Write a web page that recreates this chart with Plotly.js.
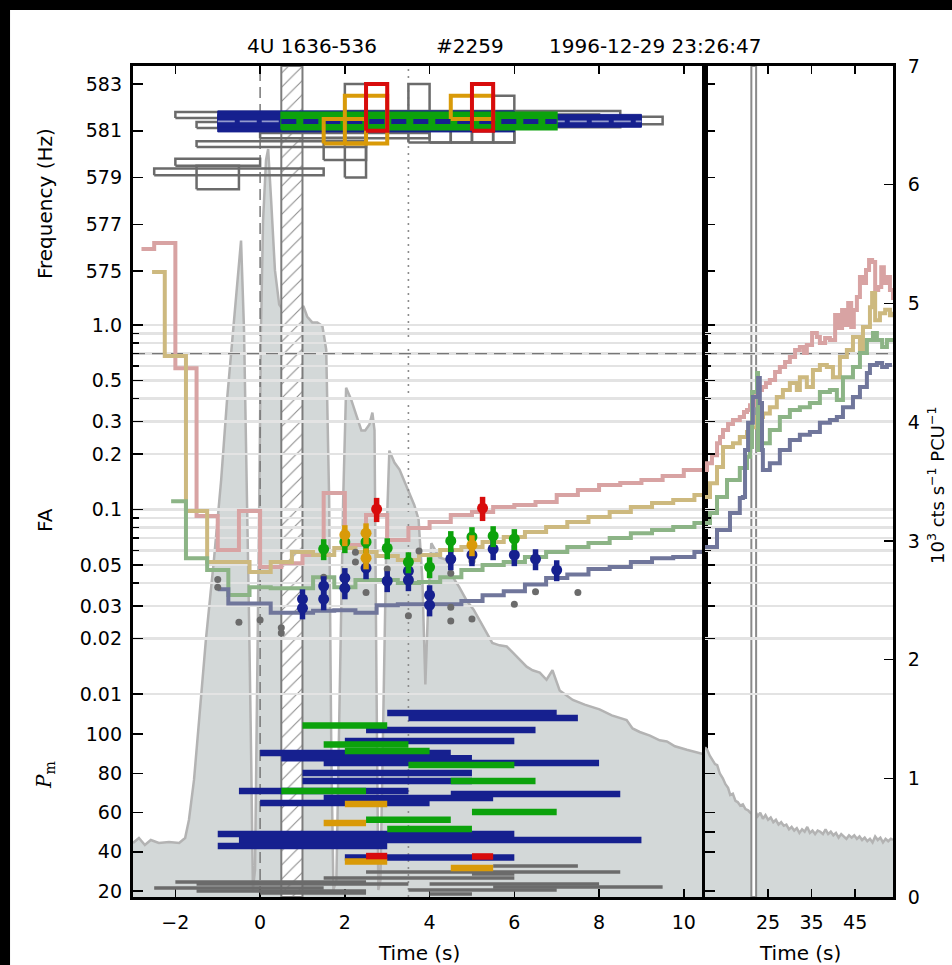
<!DOCTYPE html>
<html>
<head>
<meta charset="utf-8">
<script src="https://cdn.plot.ly/plotly-3.0.1.min.js"></script>
<style>
  html, body { margin: 0; padding: 0; background: #ffffff; }
  #chart { width: 952px; height: 965px; }
</style>
</head>
<body>
<div id="chart"></div>
<script>
// ---------------------------------------------------------------------------
// Burst #2259 of 4U 1636-536 (1996-12-29 23:26:47): light curve, oscillation
// detections in frequency, false-alarm levels and Pm powers.
// ---------------------------------------------------------------------------

// time axis limits (s): early panel and late panel
const T_START = -3.0, T_SPLIT = 10.5, T_END = 53.7;
const RATE_TOP = 7;                 // top of count-rate scale (10^3 cts/s/PCU)

// light curve [time s, rate 10^3 cts/s/PCU]
const lcEarly = [
  [-3.00,0.455],[-2.86,0.497],[-2.72,0.438],[-2.58,0.480],[-2.39,0.455],[-2.15,0.463],[-1.91,0.455],[-1.77,0.497],[-1.68,0.649],[-1.56,0.986],
  [-1.44,1.49],[-1.28,2.165],[-1.09,2.84],[-0.92,3.51],[-0.78,4.19],[-0.64,4.78],[-0.52,5.28],[-0.45,5.53],[-0.38,4.78],[-0.31,3.51],
  [-0.26,2.33],[-0.21,1.15],[-0.17,0.06],[-0.12,0.23],[-0.07,1.66],[-0.02,3.34],[0.02,4.78],[0.07,5.70],[0.14,6.21],[0.19,6.30],
  [0.26,5.87],[0.35,5.28],[0.45,4.99],[0.57,4.93],[0.69,4.90],[0.83,4.89],[0.95,4.93],[1.02,4.98],[1.11,4.89],[1.23,4.84],
  [1.35,4.84],[1.47,4.81],[1.56,4.61],[1.63,3.34],[1.68,1.24],[1.73,0.06],[1.80,0.14],[1.87,1.66],[1.96,3.34],[2.03,4.29],
  [2.15,4.19],[2.27,4.06],[2.39,3.93],[2.48,3.93],[2.58,3.98],[2.65,4.08],[2.70,3.93],[2.74,2.08],[2.79,0.06],[2.84,0.14],
  [2.91,1.66],[2.98,3.01],[3.05,3.76],[3.17,3.66],[3.29,3.60],[3.40,3.51],[3.52,3.41],[3.64,3.30],[3.74,3.18],[3.83,2.67],
  [3.90,1.79],[3.97,2.50],[4.04,2.98],[4.23,2.86],[4.40,2.84],[4.52,2.71],[4.70,2.61],[4.87,2.50],[5.04,2.42],[5.18,2.33],
  [5.34,2.23],[5.48,2.14],[5.65,2.12],[5.82,2.11],[5.96,2.06],[6.12,2.00],[6.29,1.94],[6.43,1.91],[6.60,1.89],[6.76,1.83],
  [6.90,1.91],[7.07,1.74],[7.38,1.66],[7.66,1.62],[8.01,1.58],[8.30,1.53],[8.65,1.49],[8.79,1.42],[8.96,1.39],[9.20,1.36],
  [9.43,1.32],[9.60,1.31],[9.79,1.27],[10.07,1.24],[10.26,1.22],[10.50,1.20]
];
const lcLate = [
  [10.5,1.26],[11.0,1.24],[11.6,1.19],[12.2,1.16],[12.8,1.12],[13.3,1.11],[13.9,1.04],[14.6,1.00],[15.2,0.95],[15.8,0.92],
  [16.3,0.86],[16.9,0.87],[17.5,0.81],[18.0,0.80],[18.6,0.77],[19.2,0.78],[19.8,0.74],[20.4,0.73],[20.9,0.71],[21.5,0.70],
  [22.1,0.72],[22.6,0.68],[23.2,0.71],[23.8,0.66],[24.4,0.69],[25.0,0.65],[25.6,0.67],[26.2,0.63],[26.8,0.65],[27.4,0.61],
  [28.0,0.63],[28.6,0.60],[29.2,0.61],[29.8,0.57],[30.4,0.59],[31.0,0.56],[31.6,0.58],[32.2,0.54],[32.8,0.57],[33.4,0.55],
  [34.0,0.59],[34.6,0.54],[35.2,0.56],[35.8,0.53],[36.4,0.56],[37.0,0.55],[37.6,0.53],[38.2,0.57],[38.8,0.53],[39.4,0.55],
  [40.0,0.52],[40.6,0.54],[41.2,0.50],[41.8,0.53],[42.4,0.51],[43.0,0.49],[43.6,0.52],[44.2,0.50],[44.8,0.52],[45.4,0.49],
  [46.0,0.51],[46.6,0.48],[47.2,0.50],[47.8,0.47],[48.4,0.49],[49.0,0.46],[49.6,0.51],[50.2,0.48],[50.8,0.50],[51.4,0.46],
  [52.0,0.49],[52.6,0.47],[53.2,0.49],[53.7,0.48]
];

// excluded data windows [start, end] (s) and reference times
const gapEarly = [0.5, 1.0];
const gapLate = [21.15, 22.25];
const burstOnset = 0.0;
const peakMarker = 3.5;

// frequency windows [t start, t end, f low, f high] (Hz)
const freqGrey = [
  [-2.0,2.0,581.55,581.80],[-1.5,2.5,581.12,581.37],[-1.5,2.5,580.30,580.55],[0.0,4.0,580.68,580.90],
  [-2.0,0.0,579.50,579.80],[-2.5,1.5,579.10,579.38],[-1.5,-0.5,578.50,579.50],[1.5,2.5,579.75,580.70],
  [2.0,2.5,581.0,583.0],[2.0,2.5,579.0,581.0],[3.5,4.0,581.0,583.0],
  [3.5,4.5,580.5,581.5],[4.0,5.0,580.5,581.5],[4.5,5.5,580.5,581.5],[5.0,6.0,580.5,581.5],
  [5.5,6.0,580.5,582.5],[2.0,8.5,581.15,581.85],[6.0,8.0,581.20,581.70],[5.5,9.5,581.28,581.60]
];
const freqBlue = [[-1.0,9.0,581.15,581.70],[-1.0,6.0,580.95,581.85]];
const freqBlueMid = [-1.0, 9.0, 581.40];
const freqGreen = [[0.5,7.0,581.05,581.78]];
const freqGreenMid = [0.5, 7.0, 581.40];
const freqAmber = [[2.0,3.0,580.45,582.5],[1.5,2.5,580.45,581.5],[4.5,5.5,581.5,582.5]];
const freqRed = [[2.5,3.0,581.0,583.0],[5.0,5.5,581.0,583.0]];

// false-alarm levels: step series [t, FA]
const roseStep = [[-2.8,2.58],[-2.5,2.78],[-2.0,0.584],[-1.5,0.0922],[-1.0,0.0603],[-0.5,0.0982],[0.0,0.0488],[0.5,0.0512],[1.0,0.0567],[1.5,0.1229],[2.0,0.0642],[2.5,0.0933],[3.0,0.0684],[3.5,0.0794],[4.0,0.0855],[4.5,0.0933],[5.0,0.0969],[5.5,0.1032],[6.0,0.1059],[6.5,0.1099],[7.0,0.1199],[7.5,0.1276],[8.0,0.1358],[8.5,0.1393],[9.0,0.1445],[9.5,0.1519],[10.0,0.1637]];
const sandStep = [[-2.55,1.94],[-2.25,0.679],[-1.75,0.0982],[-1.25,0.0519],[-0.75,0.0519],[-0.25,0.0458],[0.25,0.0519],[0.75,0.0588],[1.25,0.0567],[1.75,0.0618],[2.25,0.0588],[2.75,0.0560],[3.25,0.0532],[3.75,0.0567],[4.25,0.0603],[4.75,0.0626],[5.25,0.0667],[5.75,0.0710],[6.25,0.0755],[6.75,0.0803],[7.25,0.0855],[7.75,0.0910],[8.25,0.0969],[8.75,0.1032],[9.25,0.1085],[9.75,0.1126],[10.25,0.1199]];
const sageStep = [[-2.1,0.111],[-1.75,0.0545],[-1.25,0.0470],[-0.75,0.0344],[-0.25,0.0379],[0.25,0.0375],[0.75,0.0375],[1.25,0.0430],[1.75,0.0379],[2.25,0.0415],[2.75,0.0415],[3.25,0.0400],[3.75,0.0405],[4.25,0.0430],[4.75,0.0470],[5.25,0.0500],[5.75,0.0519],[6.25,0.0553],[6.75,0.0588],[7.25,0.0626],[7.75,0.0658],[8.25,0.0701],[8.75,0.0745],[9.25,0.0774],[9.75,0.0803],[10.25,0.0845]];
const slateStep = [[-1.0,0.0370],[-0.75,0.0310],[-0.25,0.0310],[0.25,0.0276],[0.75,0.0276],[1.25,0.0283],[1.75,0.0285],[2.25,0.0276],[2.75,0.0303],[3.25,0.0307],[3.75,0.0307],[4.25,0.0307],[4.75,0.0319],[5.25,0.0343],[5.75,0.0361],[6.25,0.0393],[6.75,0.0426],[7.25,0.0444],[7.75,0.0476],[8.25,0.0488],[8.75,0.0519],[9.25,0.0545],[9.75,0.0553],[10.25,0.0588]];

const roseLate = [[10.5,0.164],[10.96,0.178],[12.1,0.197],[13.26,0.229],[13.95,0.247],[14.64,0.270],[15.8,0.291],[16.93,0.306],[18.5,0.317],[19.46,0.338],[20.15,0.346],[20.84,0.368],[21.76,0.412],[22.45,0.444],[23.6,0.461],[24.5,0.485],[25.4,0.503],[26.6,0.556],[27.7,0.592],[28.9,0.630],[30.0,0.671],[31.2,0.732],[32.3,0.760],[33.25,0.705],[33.9,0.779],[35.1,0.905],[36.2,0.861],[36.9,0.799],[38.1,0.850],[39.2,0.829],[40.4,1.133],[41.1,0.963],[42.0,1.206],[42.7,1.0],[43.4,1.316],[44.1,0.975],[44.7,1.206],[45.4,1.418],[46.1,1.82],[46.8,1.69],[47.5,1.99],[48.2,2.25],[48.9,2.195],[49.6,1.548],[50.3,1.607],[51.0,2.06],[51.6,1.69],[52.3,1.82],[53.0,1.548],[53.7,1.366]];
const sandLate = [[10.5,0.117],[11.65,0.139],[13.26,0.170],[14.64,0.218],[16.93,0.229],[18.5,0.247],[20.15,0.263],[21.3,0.279],[22.45,0.317],[23.83,0.332],[25.4,0.359],[27.0,0.407],[28.4,0.444],[30.0,0.485],[31.6,0.444],[32.3,0.522],[33.9,0.461],[35.3,0.570],[36.9,0.607],[38.5,0.592],[39.9,0.522],[41.5,0.671],[43.1,0.732],[44.5,0.861],[46.1,0.732],[46.8,0.975],[48.4,1.25],[48.9,1.49],[49.6,1.06],[50.7,1.16],[51.9,1.21],[53.0,1.13],[53.7,1.18]];
const sageLate = [[10.5,0.0845],[11.65,0.0957],[13.26,0.117],[15.56,0.1445],[18.5,0.168],[20.15,0.193],[20.84,0.218],[21.3,0.433],[22.45,0.549],[22.68,0.210],[23.6,0.229],[25.4,0.270],[27.7,0.317],[30.0,0.346],[32.3,0.359],[34.6,0.378],[36.9,0.433],[39.2,0.444],[40.8,0.392],[42.2,0.522],[44.5,0.592],[46.1,0.705],[47.7,0.829],[49.1,0.905],[50.0,0.829],[51.2,0.760],[52.3,0.829],[53.7,0.850]];
const slateLate = [[10.5,0.0626],[13.26,0.0774],[16.24,0.0957],[18.5,0.1155],[19.2,0.117],[19.7,0.210],[20.4,0.295],[21.5,0.407],[22.7,0.516],[23.1,0.378],[23.6,0.210],[23.8,0.164],[25.4,0.178],[27.7,0.210],[30.0,0.238],[32.3,0.254],[34.6,0.263],[36.9,0.295],[39.2,0.306],[40.8,0.317],[42.2,0.359],[44.5,0.407],[46.1,0.461],[47.7,0.549],[48.4,0.607],[50.0,0.622],[51.2,0.592],[52.3,0.607],[53.0,0.592]];

const faThreshold = 0.7;

// measured false-alarm probabilities [t, FA]
const faGrey = [[-1.0,0.0418],[-1.0,0.0379],[-0.5,0.0245],[0.0,0.0252],[0.5,0.0229],[0.5,0.0214],[1.5,0.0430],[2.25,0.0587],[2.25,0.0519],[2.5,0.0355],[3.0,0.0476],[3.5,0.0266],[3.75,0.0596],[4.5,0.0452],[4.5,0.0295],[4.5,0.0249],[5.0,0.0255],[5.0,0.0526],[6.0,0.0307],[6.5,0.0359],[7.5,0.0355]];
const faBlue = [[1.0,0.0327],[1.0,0.0292],[1.5,0.0385],[1.5,0.0327],[2.0,0.0426],[2.0,0.0375],[2.5,0.0482],[3.0,0.0410],[3.5,0.0464],[3.5,0.0415],[4.0,0.0344],[4.0,0.0303],[4.5,0.0539],[5.0,0.0567],[5.5,0.0611],[6.0,0.0567],[6.5,0.0539],[7.0,0.0470]];
const faGreen = [[1.5,0.0611],[2.0,0.0667],[2.5,0.0667],[3.0,0.0618],[3.5,0.0519],[4.0,0.0488],[4.5,0.0676],[5.0,0.0710],[5.5,0.0719],[6.0,0.0693]];
const faAmber = [[2.0,0.0728],[2.5,0.0745],[2.5,0.0545],[5.0,0.0642]];
const faRed = [[2.75,0.1006],[5.25,0.1019]];

// Pm powers over time windows [t start, t end, Pm]
const pmGrey = [[5.5,7.5,32.7],[2.5,8.5,29.7],[5.0,6.0,28.7],[1.5,6.0,26.6],[-2.0,2.5,24.6],[-1.5,3.5,23.6],[4.0,8.0,23.6],[5.5,9.5,22.0],[-2.5,1.5,21.5],[-1.5,2.5,20.0],[3.5,7.0,20.5],[0.0,2.5,19.0],[4.0,5.0,18.5]];
const pmBlue = [[3.0,7.0,110.7],[3.5,7.5,108.2],[2.5,6.5,102.0],[2.0,6.0,96.4],[0.0,4.5,90.3],[0.5,5.0,87.7],[1.5,8.0,85.2],[1.0,5.0,80.1],[1.0,5.0,76.0],[-0.5,3.5,71.0],[4.5,8.5,69.4],[1.5,5.5,67.4],[0.0,4.0,64.8],[-1.0,6.0,49.0],[-0.5,9.0,46.0],[-1.0,3.0,42.9],[2.0,6.0,37.1]];
const pmGreen = [[1.0,3.0,104.3],[1.5,3.5,94.6],[2.0,4.0,91.3],[3.5,6.0,84.2],[4.5,6.5,76.1],[0.5,2.5,70.9],[5.0,7.0,60.3],[2.5,4.5,56.3],[3.0,5.0,51.6]];
const pmAmber = [[2.0,3.0,64.3],[1.5,2.5,54.6],[2.0,3.0,35.0],[4.5,5.5,31.7]];
const pmRed = [[2.5,3.0,37.8],[5.0,5.5,37.6]];

// axis tick values
const xTicksEarly = [-2, 0, 2, 4, 6, 8, 10];
const xTicksLate = [25, 35, 45];
const rateTicks = [0, 1, 2, 3, 4, 5, 6, 7];
const freqTicks = [575, 577, 579, 581, 583];
const faTicks = [1.0, 0.5, 0.3, 0.2, 0.1, 0.05, 0.03, 0.02, 0.01];
const faTickText = ['1.0', '0.5', '0.3', '0.2', '0.1', '0.05', '0.03', '0.02', '0.01'];
const faMinorTicks = [0.9, 0.8, 0.7, 0.6, 0.4, 0.09, 0.08, 0.07, 0.06, 0.04];
const pmTicks = [20, 40, 60, 80, 100];
const pmTicksLate = [20, 40, 50, 60, 80, 100];

// ---------------------------------------------------------------------------
const FONT = 'DejaVu Sans, Verdana, sans-serif';
const COL = {
  lcFill: '#d3d8d8', lcLine: '#b3b3b3',
  rose: '#d8a3a3', sand: '#cdb97f', sage: '#8cb486', slate: '#70769b',
  blue: '#16208f', green: '#0ca20c', amber: '#d99a08', red: '#d80c0c',
  grey: '#6b6b6b', grid: '#e3e3e3'
};

const col = (arr, i) => arr.map(r => r[i]);

function rectPath(rows) {
  const x = [], y = [];
  rows.forEach(r => {
    x.push(r[0], r[1], r[1], r[0], r[0], null);
    y.push(r[2], r[2], r[3], r[3], r[2], null);
  });
  return { x, y };
}
function barPath(rows) {
  const x = [], y = [];
  rows.forEach(r => { x.push(r[0], r[1], null); y.push(r[2], r[2], null); });
  return { x, y };
}
function stepPath(rows, tEnd) {
  const x = col(rows, 0), y = col(rows, 1);
  x.push(tEnd); y.push(y[y.length - 1]);
  return { x, y };
}

const traces = [];
const add = (t) => traces.push(Object.assign({ type: 'scatter', hoverinfo: 'skip', showlegend: false }, t));

// --- early panel: light curve and reference markers -------------------------
add({ x: col(lcEarly, 0), y: col(lcEarly, 1), xaxis: 'x', yaxis: 'y', mode: 'lines',
      line: { color: COL.lcLine, width: 2.5 }, fill: 'tozeroy', fillcolor: COL.lcFill });
add({ x: [gapEarly[0], gapEarly[1], gapEarly[1], gapEarly[0], gapEarly[0]], y: [0, 0, RATE_TOP, RATE_TOP, 0],
      xaxis: 'x', yaxis: 'y', mode: 'lines', line: { color: '#7c7c7c', width: 2 }, fill: 'toself',
      fillcolor: '#ffffff', fillpattern: { shape: '/', bgcolor: '#ffffff', fgcolor: '#8a8a8a', size: 10, solidity: 0.1 } });
add({ x: [burstOnset, burstOnset], y: [0, RATE_TOP], xaxis: 'x', yaxis: 'y', mode: 'lines',
      line: { color: '#777777', width: 1.5, dash: '11px,6px' } });
add({ x: [peakMarker, peakMarker], y: [0, RATE_TOP], xaxis: 'x', yaxis: 'y', mode: 'lines',
      line: { color: '#8c8c8c', width: 1.6, dash: '2px,5px' } });

// --- frequency windows ---------------------------------------------------------
let p = rectPath(freqGrey);
add({ x: p.x, y: p.y, xaxis: 'x', yaxis: 'y2', mode: 'lines', line: { color: COL.grey, width: 2.5 } });
p = rectPath(freqBlue);
add({ x: p.x, y: p.y, xaxis: 'x', yaxis: 'y2', mode: 'lines', line: { color: COL.blue, width: 1 },
      fill: 'toself', fillcolor: COL.blue });
add({ x: [freqBlueMid[0], freqBlueMid[1]], y: [freqBlueMid[2], freqBlueMid[2]], xaxis: 'x', yaxis: 'y2', mode: 'lines',
      line: { color: 'rgba(190,195,225,0.75)', width: 1.6, dash: '17px,5px' } });
p = rectPath(freqGreen);
add({ x: p.x, y: p.y, xaxis: 'x', yaxis: 'y2', mode: 'lines', line: { color: COL.green, width: 2 },
      fill: 'toself', fillcolor: COL.green });
add({ x: [freqGreenMid[0], freqGreenMid[1]], y: [freqGreenMid[2], freqGreenMid[2]], xaxis: 'x', yaxis: 'y2', mode: 'lines',
      line: { color: COL.blue, width: 5, dash: '15px,7px' } });
p = rectPath(freqAmber);
add({ x: p.x, y: p.y, xaxis: 'x', yaxis: 'y2', mode: 'lines', line: { color: COL.amber, width: 4 } });
p = rectPath(freqRed);
add({ x: p.x, y: p.y, xaxis: 'x', yaxis: 'y2', mode: 'lines', line: { color: COL.red, width: 4 } });

// --- false-alarm panel -------------------------------------------------------------
add({ x: [T_START, T_SPLIT], y: [faThreshold, faThreshold], xaxis: 'x', yaxis: 'y3', mode: 'lines',
      line: { color: '#777777', width: 1.3, dash: '12px,7px' } });
[[roseStep, COL.rose], [sandStep, COL.sand], [sageStep, COL.sage], [slateStep, COL.slate]].forEach(([rows, c]) => {
  const s = stepPath(rows, T_SPLIT);
  add({ x: s.x, y: s.y, xaxis: 'x', yaxis: 'y3', mode: 'lines', line: { color: c, width: 4, shape: 'hv' } });
});
add({ x: col(faGrey, 0), y: col(faGrey, 1), xaxis: 'x', yaxis: 'y3', mode: 'markers',
      marker: { color: COL.grey, size: 7 } });
[[faBlue, COL.blue, 13], [faGreen, COL.green, 13], [faAmber, COL.amber, 13], [faRed, COL.red, 15]].forEach(([rows, c, e]) => {
  add({ x: col(rows, 0), y: col(rows, 1), xaxis: 'x', yaxis: 'y3', mode: 'markers',
        marker: { color: c, size: 11 },
        error_y: { type: 'percent', value: e, color: c, thickness: 5.5, width: 0 } });
});

// --- Pm panel ------------------------------------------------------------------------
[[pmGrey, COL.grey, 3.5], [pmBlue, COL.blue, 6.5], [pmGreen, COL.green, 6.5], [pmAmber, COL.amber, 6.5], [pmRed, COL.red, 6.5]]
  .forEach(([rows, c, w]) => {
    const b = barPath(rows);
    add({ x: b.x, y: b.y, xaxis: 'x', yaxis: 'y4', mode: 'lines', line: { color: c, width: w } });
  });

// --- late panel -------------------------------------------------------------------------
add({ x: col(lcLate, 0), y: col(lcLate, 1), xaxis: 'x2', yaxis: 'y5', mode: 'lines',
      line: { color: COL.lcLine, width: 2.5 }, fill: 'tozeroy', fillcolor: COL.lcFill });
add({ x: [gapLate[0], gapLate[1], gapLate[1], gapLate[0], gapLate[0]], y: [0, 0, RATE_TOP, RATE_TOP, 0],
      xaxis: 'x2', yaxis: 'y5', mode: 'lines', line: { color: '#8a8a8a', width: 2 }, fill: 'toself',
      fillcolor: '#ffffff' });
add({ x: [T_SPLIT, T_END], y: [faThreshold, faThreshold], xaxis: 'x2', yaxis: 'y6', mode: 'lines',
      line: { color: '#777777', width: 1.3, dash: '12px,7px' } });
[[roseLate, COL.rose], [sandLate, COL.sand], [sageLate, COL.sage], [slateLate, COL.slate]].forEach(([rows, c]) => {
  add({ x: col(rows, 0), y: col(rows, 1), xaxis: 'x2', yaxis: 'y6', mode: 'lines', line: { color: c, width: 4, shape: 'hv' } });
});
add({ x: [], y: [], xaxis: 'x2', yaxis: 'y7', mode: 'lines' });
add({ x: [], y: [], xaxis: 'x2', yaxis: 'y8', mode: 'lines' });

// ---------------------------------------------------------------------------
const SPLIT = (705 - 133) / 760;
const tickBase = {
  ticks: 'inside', tickcolor: '#000', tickwidth: 1.5, ticklen: 9,
  tickfont: { family: FONT, size: 19, color: '#000' },
  showgrid: false, zeroline: false, fixedrange: true, tickmode: 'array'
};
const frame = { showline: true, linecolor: '#000', linewidth: 3 };
const faMinor = { tickmode: 'array', tickvals: faMinorTicks, ticks: 'inside', ticklen: 6, tickwidth: 1.5,
                  tickcolor: '#000', showgrid: true, gridcolor: COL.grid, gridwidth: 2.5 };
const FREQ_RANGE = [548.22, 583.77];
const FA_RANGE = [-3.100, 1.404];
const PM_RANGE = [16.94, 440.4];

const layout = {
  width: 952, height: 965,
  margin: { l: 133, r: 59, t: 66, b: 68, pad: 0 },
  paper_bgcolor: '#ffffff', plot_bgcolor: 'rgba(0,0,0,0)',
  showlegend: false,
  font: { family: FONT, size: 19, color: '#000' },
  xaxis: Object.assign({}, tickBase, frame, { domain: [0, SPLIT], range: [T_START, T_SPLIT], anchor: 'y',
          tickvals: xTicksEarly, mirror: 'ticks', ticklen: 8, ticklabelstandoff: 6 }),
  xaxis2: Object.assign({}, tickBase, frame, { domain: [SPLIT, 1], range: [T_SPLIT, T_END], anchor: 'y5',
          tickvals: xTicksLate, mirror: 'ticks', ticklen: 8, ticklabelstandoff: 6 }),
  yaxis: Object.assign({}, tickBase, frame, { range: [0, RATE_TOP], anchor: 'x', ticks: '', showticklabels: false,
          mirror: true }),
  yaxis2: Object.assign({}, tickBase, { range: FREQ_RANGE, anchor: 'x', tickvals: freqTicks, ticklen: 10,
          ticklabelstandoff: 10 }),
  yaxis3: Object.assign({}, tickBase, { type: 'log', range: FA_RANGE, anchor: 'x', tickvals: faTicks,
          ticktext: faTickText, ticklen: 10, ticklabelstandoff: 10, showgrid: true, gridcolor: COL.grid,
          gridwidth: 2.5, minor: faMinor }),
  yaxis4: Object.assign({}, tickBase, { range: PM_RANGE, anchor: 'x', tickvals: pmTicks, ticklen: 10,
          ticklabelstandoff: 10 }),
  yaxis5: Object.assign({}, tickBase, frame, { range: [0, RATE_TOP], anchor: 'x2', side: 'right',
          tickvals: rateTicks, mirror: true, ticklen: 9, ticklabelstandoff: 8 }),
  yaxis6: Object.assign({}, tickBase, { type: 'log', range: FA_RANGE, anchor: 'x2', side: 'left',
          tickvals: faTicks, showticklabels: false, ticklen: 10, showgrid: true, gridcolor: COL.grid,
          gridwidth: 2.5, minor: faMinor }),
  yaxis7: Object.assign({}, tickBase, { range: PM_RANGE, anchor: 'x2', side: 'left', tickvals: pmTicksLate,
          showticklabels: false, ticklen: 10 }),
  yaxis8: Object.assign({}, tickBase, { range: FREQ_RANGE, anchor: 'x2', side: 'left', tickvals: freqTicks,
          showticklabels: false, ticklen: 10 }),
  shapes: [
    { type: 'rect', xref: 'paper', yref: 'paper', x0: -0.2, x1: 1.1, y0: 1.0674, y1: 1.1,
      fillcolor: '#000', line: { width: 0 } },
    { type: 'rect', xref: 'paper', yref: 'paper', x0: -0.2, x1: -0.1618, y0: -0.1, y1: 1.1,
      fillcolor: '#000', line: { width: 0 } }
  ],
  annotations: [
    { text: '4U 1636-536', x: 0.2349, y: 1.0241 },
    { text: '#2259', x: 0.4440, y: 1.0241 },
    { text: '1996-12-29 23:26:47', x: 0.6868, y: 1.0241 },
    { text: 'Frequency (Hz)', x: -0.1158, y: 0.8351, textangle: -90 },
    { text: 'FA', x: -0.1158, y: 0.4537, textangle: -90 },
    { text: '<i>P</i><sub>m</sub>', x: -0.1158, y: 0.1468, textangle: -90,
      font: { family: 'DejaVu Serif, serif', size: 20, color: '#000' } },
    { text: 'Time (s)', x: 0.3763, y: -0.0674 },
    { text: 'Time (s)', x: 0.8776, y: -0.0674 },
    { text: '10<sup>3</sup> cts s<sup>\u22121</sup> PCU<sup>\u22121</sup>', x: 1.0566, y: 0.4958, textangle: -90,
      font: { family: FONT, size: 18, color: '#000' } }
  ].map(a => Object.assign({ xref: 'paper', yref: 'paper', showarrow: false, xanchor: 'center', yanchor: 'middle',
                             font: { family: FONT, size: 20, color: '#000' } }, a))
};

Plotly.newPlot('chart', traces, layout, { staticPlot: true, displayModeBar: false });
</script>
</body>
</html>
